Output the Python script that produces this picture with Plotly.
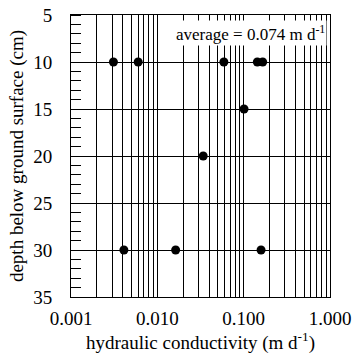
import plotly.graph_objects as go

depth = [10, 10, 10, 10, 10, 15, 20, 30, 30, 30]
conductivity = [0.0031, 0.0060, 0.059, 0.144, 0.166, 0.101, 0.034, 0.0041, 0.0163, 0.159]
x_tick_vals = [m * 10.0 ** e for e in (-3, -2, -1) for m in range(1, 10)] + [1.0]
x_tick_text = [f"{v:.3f}" if m == 1 else "" for v, m in
               zip(x_tick_vals, [m for e in (-3, -2, -1) for m in range(1, 10)] + [1])]
y_tick_vals = [5, 10, 15, 20, 25, 30, 35]

font = "Liberation Serif"
fig = go.Figure()
fig.add_trace(go.Scatter(x=conductivity, y=depth, mode="markers",
                         marker=dict(color="black", size=9), showlegend=False))
fig.update_layout(
    width=353, height=360, margin=dict(l=71, r=23, t=15, b=63),
    plot_bgcolor="white", paper_bgcolor="white",
    font=dict(family=font, color="black", size=19),
    xaxis=dict(type="log", range=[-3, 0], tickvals=x_tick_vals, ticktext=x_tick_text,
               showgrid=True, gridcolor="black", gridwidth=1, automargin=False,
               showline=True, linecolor="black", linewidth=1, mirror=True,
               ticks="", ticklabelstandoff=4,
               title=dict(text="hydraulic conductivity (m d<sup>-1</sup>)", font=dict(size=19, family=font), standoff=6),
               tickfont=dict(size=19, family=font), zeroline=False),
    yaxis=dict(range=[35, 5], tickvals=y_tick_vals, automargin=False,
               showgrid=True, gridcolor="black", gridwidth=1,
               showline=True, linecolor="black", linewidth=1, mirror=True,
               ticks="", ticklabelstandoff=14,
               minor=dict(ticks="inside", dtick=1, ticklen=10, tickcolor="black", showgrid=False),
               title=dict(text="depth below ground surface (cm)", font=dict(size=19, family=font), standoff=4),
               tickfont=dict(size=19, family=font), zeroline=False),
    annotations=[dict(text="average = 0.074 m d<sup>-1</sup>", xref="paper", yref="paper",
                      x=0.99, y=0.936, xanchor="right", yanchor="middle", showarrow=False,
                      bgcolor="white", font=dict(size=17, family=font))],
)
fig.write_html("out.html")
